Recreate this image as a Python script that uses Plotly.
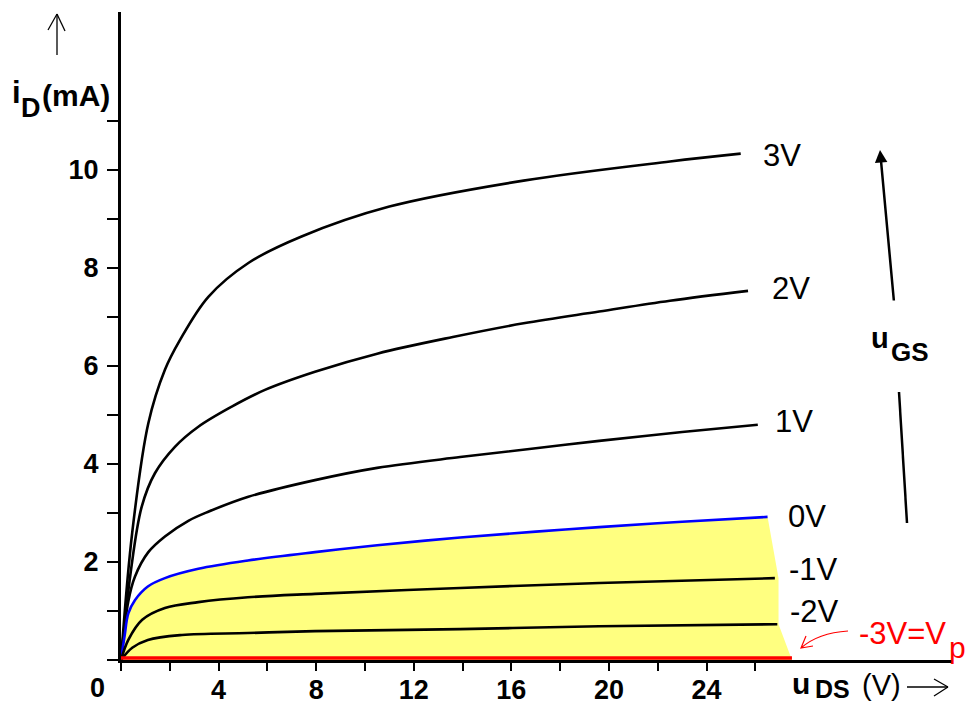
import plotly.graph_objects as go

# ---- data ----
uds_3v = [0, 0.46, 1.12, 1.8, 2.42, 3.58, 5.22, 7.4, 11.0, 16.5, 22.5, 25.4]
id_3v = [0, 2.6, 4.83, 5.92, 6.53, 7.41, 8.1, 8.64, 9.25, 9.78, 10.17, 10.33]

uds_2v = [0, 0.4, 0.85, 1.39, 2.21, 3.17, 4.54, 5.9, 7.95, 10.5, 13.6, 16.5, 19.6, 22.5, 25.7]
id_2v = [0, 1.8, 3.13, 3.81, 4.35, 4.76, 5.17, 5.51, 5.88, 6.25, 6.59, 6.87, 7.11, 7.33, 7.53]

uds_1v = [0, 0.3, 0.57, 1.12, 1.8, 2.76, 3.6, 5.22, 7.95, 10.5, 13.9, 17.0, 19.6, 23.0, 26.1]
id_1v = [0, 1.2, 1.7, 2.2, 2.52, 2.84, 3.03, 3.33, 3.67, 3.92, 4.14, 4.32, 4.47, 4.65, 4.80]

uds_0v = [0, 0.15, 0.3, 0.57, 1.1, 1.8, 3.17, 5.2, 7.95, 10.5, 13.9, 17.0, 19.6, 23.0, 26.5]
id_0v = [0, 0.5, 0.95, 1.22, 1.5, 1.67, 1.86, 2.03, 2.2, 2.34, 2.5, 2.62, 2.71, 2.82, 2.92]

uds_m1v = [0, 0.3, 0.87, 1.8, 3.17, 5.2, 7.95, 13.9, 19.6, 26.8]
id_m1v = [0, 0.41, 0.82, 1.06, 1.18, 1.28, 1.35, 1.47, 1.57, 1.67]

uds_m2v = [0, 0.46, 1.1, 2.5, 5.2, 7.95, 13.9, 19.6, 26.9]
id_m2v = [0, 0.25, 0.41, 0.51, 0.55, 0.59, 0.63, 0.69, 0.73]

uds_m3v = [0, 27.5]
id_m3v = [0.04, 0.04]

# right-hand boundary of the shaded (depletion-mode) region after the 0V curve
region_edge_uds = [26.95, 26.95, 27.5, 0]
region_edge_id = [1.67, 0.73, 0.0, 0.0]

curve_labels = ["3V", "2V", "1V", "0V", "-1V", "-2V"]

x_tick_vals = list(range(0, 27, 2))
x_tick_text = ["", "", "4", "", "8", "", "12", "", "16", "", "20", "", "24", ""]
y_tick_vals = list(range(0, 12))
y_tick_text = ["", "", "2", "", "4", "", "6", "", "8", "", "10", ""]

X_MAX = 34.06
Y_MAX = 13.22

FONT = "Liberation Sans, Arial, Helvetica, sans-serif"

fig = go.Figure()

# shaded region
fig.add_trace(go.Scatter(
    x=uds_0v + region_edge_uds, y=id_0v + region_edge_id,
    mode="lines", fill="toself", fillcolor="#FFFF80",
    line=dict(width=0), hoverinfo="skip"))

curves = [(uds_3v, id_3v), (uds_2v, id_2v), (uds_1v, id_1v),
          (uds_0v, id_0v), (uds_m1v, id_m1v), (uds_m2v, id_m2v)]
for i, (xs, ys) in enumerate(curves):
    color = "#0000FF" if curve_labels[i] == "0V" else "black"
    fig.add_trace(go.Scatter(x=xs, y=ys, mode="lines",
                             line=dict(color=color, width=2.6, shape="spline", smoothing=1.0),
                             hoverinfo="skip"))

fig.add_trace(go.Scatter(x=uds_m3v, y=id_m3v, mode="lines",
                         line=dict(color="#FF0000", width=3.5), hoverinfo="skip"))

# curve labels
xshifts = [20, 22, 15, 18, 12, 11]
yshifts = [-2, 2, 3, 0, 9, 13]
for i, (xs, ys) in enumerate(curves):
    fig.add_annotation(x=xs[-1], y=ys[-1], text=curve_labels[i], showarrow=False,
                       xanchor="left", yanchor="middle", xshift=xshifts[i], yshift=yshifts[i],
                       font=dict(family=FONT, size=31, color="black"))

# helpers: page pixel -> paper coordinates (plot area spans x 121..952, y 12..660)
def px(xp):
    return (xp - 121) / 831.0

def py(yp):
    return (660 - yp) / 648.0

def ann(xp, yp, text, size, color="black", bold=True, xanchor="center"):
    fig.add_annotation(xref="paper", yref="paper", x=px(xp), y=py(yp), text=text,
                       showarrow=False, xanchor=xanchor, yanchor="middle",
                       font=dict(family=FONT, size=size, color=color,
                                 weight="bold" if bold else "normal"))

# -3V = Vp
ann(857, 633, "-3V=V", 31, color="#FF0000", bold=False, xanchor="left")
ann(957, 647, "p", 30, color="#FF0000", bold=False)

# axis titles
ann(17, 92, "i", 31)
ann(31, 108, "D", 27)
ann(76, 95, "(mA)", 30)
ann(801, 683, "u", 30)
ann(832, 689, "DS", 25, bold=True)
ann(881, 685, "(V)", 29, bold=False)

# origin label
ann(97, 688, "0", 27)

# uGS label
ann(880, 338, "u", 29)
ann(910, 352, "GS", 26)

shapes = []
def seg(x0, y0, x1, y1, width=1.3, color="black"):
    shapes.append(dict(type="line", xref="paper", yref="paper",
                       x0=px(x0), y0=py(y0), x1=px(x1), y1=py(y1),
                       line=dict(color=color, width=width)))

# i_D arrow (top-left)
seg(57, 55, 57, 14)
seg(48, 30, 57, 14)
seg(65, 31, 57, 14)
# u_DS arrow (bottom-right)
seg(907, 687, 948, 687)
seg(934, 679, 948, 687)
seg(934, 696, 948, 687)
# uGS arrow lower segment
seg(899, 392, 907, 523, width=2.5)

# red curved pointer
path = "M {:.5f},{:.5f} Q {:.5f},{:.5f} {:.5f},{:.5f}".format(
    px(848), py(631), px(818), py(633), px(801), py(648))
path += " M {:.5f},{:.5f} L {:.5f},{:.5f} L {:.5f},{:.5f}".format(
    px(806), py(636), px(801), py(648), px(813), py(646))
shapes.append(dict(type="path", xref="paper", yref="paper", path=path,
                   line=dict(color="#FF0000", width=1.2)))

fig.update_layout(shapes=shapes)

# uGS arrow upper segment with head
fig.add_annotation(xref="paper", yref="paper", x=px(880), y=py(150), ax=14, ay=152,
                   axref="pixel", ayref="pixel", text="", showarrow=True,
                   arrowhead=2, arrowsize=1.0, arrowwidth=2.5, arrowcolor="black")

fig.update_xaxes(range=[0, X_MAX], showline=True, linewidth=3, linecolor="black",
                 ticks="outside", ticklen=8, tickwidth=2, tickcolor="black",
                 tickvals=x_tick_vals, ticktext=x_tick_text, showgrid=False,
                 zeroline=False, automargin=False, ticklabelstandoff=-4,
                 tickfont=dict(family=FONT, size=27, color="black", weight="bold"))
fig.update_yaxes(range=[0, Y_MAX], showline=True, linewidth=3, linecolor="black",
                 ticks="outside", ticklen=11, tickwidth=2, tickcolor="black",
                 tickvals=y_tick_vals, ticktext=y_tick_text, showgrid=False,
                 zeroline=False, automargin=False, ticklabelstandoff=3,
                 tickfont=dict(family=FONT, size=27, color="black", weight="bold"))

# page body has an 8px default margin, so the figure is 8px smaller and margins shifted
fig.update_layout(template="none", width=967, height=698,
                  margin=dict(l=113, r=23, t=4, b=46, pad=0),
                  plot_bgcolor="white", paper_bgcolor="white", showlegend=False)

fig.write_html("out.html")
